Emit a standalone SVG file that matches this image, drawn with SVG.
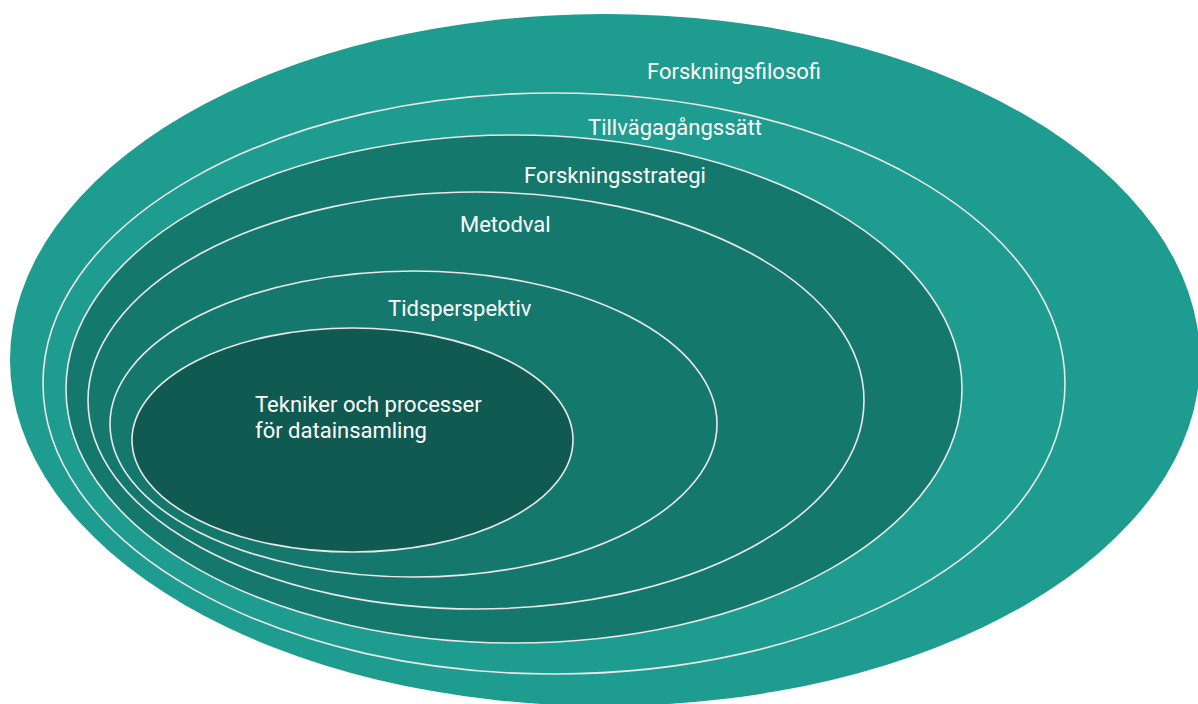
<svg xmlns="http://www.w3.org/2000/svg" width="1198" height="704" viewBox="0 0 1198 704">
<style>
.l1{fill:#1d9c8f}
.l2{fill:#1d9c8f;stroke:#e8e8e8;stroke-width:1.6}
.l3{fill:#15786c;stroke:#e8e8e8;stroke-width:1.6}
.l6{fill:#105a52;stroke:#e8e8e8;stroke-width:1.6}
text{font-family:Roboto,"Liberation Sans",sans-serif;font-size:22px;fill:#ffffff}
</style>
<rect width="1198" height="704" fill="#ffffff"/>
<g id="forskningsfilosofi">
<ellipse class="l1" cx="605" cy="360" rx="595" ry="346"/>
<text x="647" y="79">Forskningsfilosofi</text>
</g>
<g id="tillvagagangssatt">
<ellipse class="l2" cx="554" cy="383.5" rx="511" ry="290.5"/>
<text x="588" y="135">Tillvägagångssätt</text>
</g>
<g id="forskningsstrategi">
<ellipse class="l3" cx="514" cy="389" rx="448" ry="254"/>
<text x="524" y="183">Forskningsstrategi</text>
</g>
<g id="metodval">
<ellipse class="l3" cx="476" cy="400.5" rx="388" ry="208.5"/>
<text x="460" y="232">Metodval</text>
</g>
<g id="tidsperspektiv">
<ellipse class="l3" cx="413.5" cy="424" rx="303.5" ry="153"/>
<text x="388" y="316">Tidsperspektiv</text>
</g>
<g id="tekniker">
<ellipse class="l6" cx="352.5" cy="440" rx="220.5" ry="112"/>
<text x="255" y="412">Tekniker och processer</text>
<text x="255" y="438">för datainsamling</text>
</g>
</svg>
